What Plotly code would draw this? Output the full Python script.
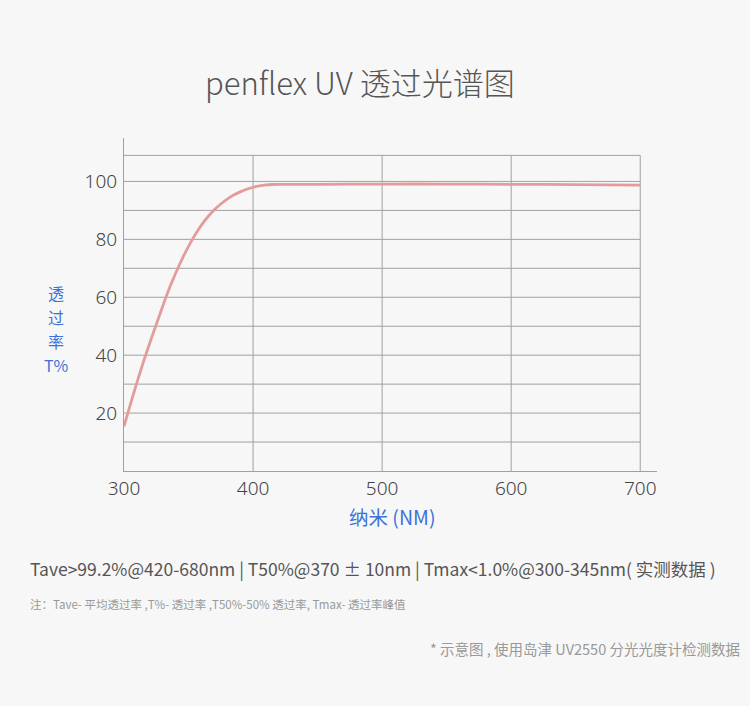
import plotly.graph_objects as go

# ---- data ----
wavelength_nm = [300, 305, 310, 315, 320, 325, 330, 335, 340, 345, 350, 355, 360, 365,
                 370, 375, 380, 385, 390, 395, 400, 405, 410, 415, 420, 450, 500, 550, 600, 650, 700]
transmittance = [15.4, 23.1, 30.5, 37.6, 44.2, 50.6, 56.9, 62.9, 68.3, 73.2, 77.6, 81.5, 84.9, 87.8,
                 90.2, 92.2, 93.9, 95.3, 96.4, 97.3, 98.0, 98.5, 98.8, 98.95, 99.0, 99.0, 99.1, 99.1, 99.0, 98.9, 98.7]
x_ticks = [300, 400, 500, 600, 700]
y_ticks = [20, 40, 60, 80, 100]
y_grid = [10, 20, 30, 40, 50, 60, 70, 80, 90, 100, 109]
x_grid = [400, 500, 600, 700]

title_text = "penflex UV 透过光谱图"
y_title_parts = ["透", "过", "率", "T%"]
x_title = "纳米 (NM)"
note1 = "Tave>99.2%@420-680nm | T50%@370 ± 10nm | Tmax<1.0%@300-345nm( 实测数据 )"
note2 = "注：Tave- 平均透过率 ,T%- 透过率 ,T50%-50% 透过率, Tmax- 透过率峰值"
note3 = "* 示意图 , 使用岛津 UV2550 分光光度计检测数据"

BG = "#f7f7f7"
GRID = "#a0a0a0"
BLUE = "#3d72d9"
FONT = "Noto Sans CJK SC, Noto Sans, sans-serif"
NUMFONT = "Noto Sans, Noto Sans CJK SC, sans-serif"

fig = go.Figure()
fig.add_trace(go.Scatter(x=wavelength_nm, y=transmittance, mode="lines",
                         line=dict(color="#e39c9c", width=2.8, shape="spline", smoothing=0.8),
                         hoverinfo="skip", showlegend=False))

shapes = []
for yv in y_grid:
    shapes.append(dict(type="line", xref="x", yref="y", x0=300, x1=700, y0=yv, y1=yv,
                       line=dict(color=GRID, width=1), layer="below"))
for xv in x_grid:
    shapes.append(dict(type="line", xref="x", yref="y", x0=xv, x1=xv, y0=0, y1=y_grid[-1],
                       line=dict(color=GRID, width=1), layer="below"))

annotations = [
    dict(text=title_text, x=360, y=81, xanchor="center", showarrow=False,
         font=dict(size=31, color="#555555", family=FONT, weight=300)),
    dict(text=x_title, x=392, y=516, xanchor="center", showarrow=False,
         font=dict(size=19.5, color=BLUE, family=FONT)),
    dict(text=note1, x=28, y=568, xanchor="left", showarrow=False,
         font=dict(size=17.5, color="#555555", family=FONT)),
    dict(text=note2, x=28, y=604, xanchor="left", showarrow=False,
         font=dict(size=11.5, color="#999999", family=FONT)),
    dict(text=note3, x=742, y=648, xanchor="right", showarrow=False,
         font=dict(size=14.5, color="#999999", family=FONT)),
]
for i, part in enumerate(y_title_parts):
    annotations.append(dict(text=part, x=56, y=293 + 24 * i, xanchor="center", showarrow=False,
                            font=dict(size=16, color=BLUE, family=FONT)))

# convert pixel positions of annotations to paper coords
W, H = 750, 706
L, R, T, B = 124, 93, 138, 235
pw, ph = W - L - R, H - T - B
for a in annotations:
    a["xref"] = "paper"
    a["yref"] = "paper"
    a["x"] = (a["x"] - L) / pw
    a["y"] = (H - B - a["y"]) / ph
    a.setdefault("yanchor", "middle")

fig.update_layout(
    width=W, height=H,
    margin=dict(l=L, r=R, t=T, b=B),
    paper_bgcolor=BG, plot_bgcolor=BG,
    shapes=shapes, annotations=annotations,
    font=dict(family=NUMFONT, color="#444444"),
    xaxis=dict(range=[300, 713], tickvals=x_ticks, showgrid=False, zeroline=False,
               showline=True, linecolor=GRID, linewidth=1.2, ticks="",
               tickfont=dict(size=19, color="#444444", family=NUMFONT, weight=300),
               ticklabelstandoff=0),
    yaxis=dict(range=[0, 115], tickvals=y_ticks, showgrid=False, zeroline=False,
               showline=True, linecolor=GRID, linewidth=1.2, ticks="",
               tickfont=dict(size=19, color="#444444", family=NUMFONT, weight=300),
               ticklabelstandoff=2),
)

fig.write_html("out.html", config={"displayModeBar": False},
               post_script="document.body.style.margin='0';document.body.style.background='#f7f7f7';")
